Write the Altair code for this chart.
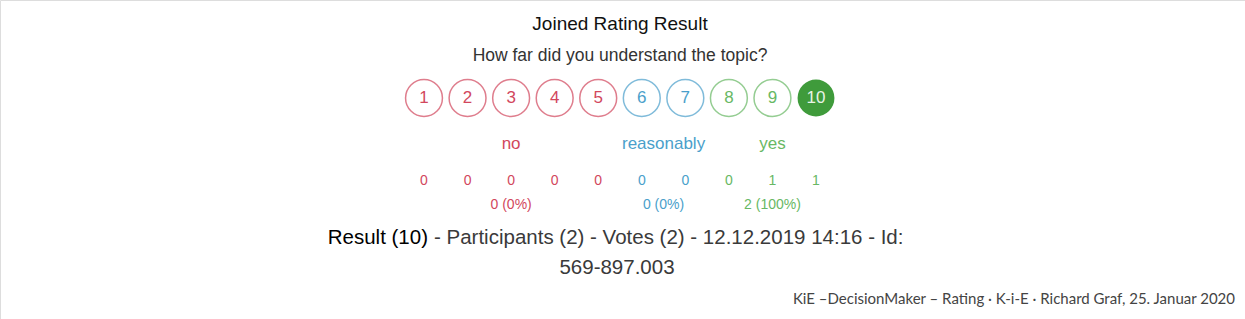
import altair as alt
import pandas as pd

ratings = [1, 2, 3, 4, 5, 6, 7, 8, 9, 10]
votes = [0, 0, 0, 0, 0, 0, 0, 0, 1, 1]
rating_group = ["no"] * 5 + ["reasonably"] * 2 + ["yes"] * 3
selected = 10

group_names = ["no", "reasonably", "yes"]
group_center = [3, 6.5, 9]
group_totals = ["0 (0%)", "0 (0%)", "2 (100%)"]

title_text = "Joined Rating Result"
question = "How far did you understand the topic?"
result_bold = "Result (10)"
result_rest = "- Participants (2) - Votes (2) - 12.12.2019 14:16 - Id:"
result_id = "569-897.003"
footer = "KiE \u2013DecisionMaker \u2013 Rating \u00b7 K-i-E \u00b7 Richard Graf, 25. Januar 2020"

colors = {"no": "#d2475d", "reasonably": "#4a9fcb", "yes": "#68b864"}
fill_sel = "#3f9b3b"

df = pd.DataFrame({
    "rating": ratings,
    "votes": votes,
    "group": rating_group,
})
df["sel"] = df["rating"] == selected
gdf = pd.DataFrame({"group": group_names, "center": group_center, "total": group_totals})

xs = alt.Scale(domain=[1, 10], range=[424, 816])
cscale = alt.Scale(domain=group_names, range=[colors[g] for g in group_names])
FONT = "Liberation Sans"

base = alt.Chart(df)
gbase = alt.Chart(gdf)

circles_open = base.transform_filter("!datum.sel").mark_point(
    shape="circle", size=1360, strokeWidth=1.5, filled=False
).encode(
    x=alt.X("rating:Q", scale=xs, axis=None),
    y=alt.value(98),
    color=alt.Color("group:N", scale=cscale, legend=None),
)
circles_sel = base.transform_filter("datum.sel").mark_point(
    shape="circle", size=1360, strokeWidth=1.5, filled=True, opacity=1, color=fill_sel
).encode(
    x=alt.X("rating:Q", scale=xs, axis=None),
    y=alt.value(98),
)
nums = base.mark_text(font=FONT, fontSize=17, baseline="middle").encode(
    x=alt.X("rating:Q", scale=xs, axis=None),
    y=alt.value(98),
    text="rating:N",
    color=alt.condition("datum.sel", alt.value("#e8f3e6"), alt.Color("group:N", scale=cscale, legend=None)),
)
counts = base.mark_text(font=FONT, fontSize=14, baseline="middle").encode(
    x=alt.X("rating:Q", scale=xs, axis=None),
    y=alt.value(181),
    text="votes:N",
    color=alt.Color("group:N", scale=cscale, legend=None),
)
glabels = gbase.mark_text(font=FONT, fontSize=17, baseline="middle").encode(
    x=alt.X("center:Q", scale=xs, axis=None),
    y=alt.value(144),
    text="group:N",
    color=alt.Color("group:N", scale=cscale, legend=None),
)
gtotals = gbase.mark_text(font=FONT, fontSize=14, baseline="middle").encode(
    x=alt.X("center:Q", scale=xs, axis=None),
    y=alt.value(205),
    text="total:N",
    color=alt.Color("group:N", scale=cscale, legend=None),
)

def label(txt, y, size, color, weight="normal", align="center", x=None, font=FONT):
    enc = dict(y=alt.value(y), text=alt.value(txt))
    if x is None:
        enc["x"] = alt.X("xx:Q", scale=xs, axis=None)
        ch = alt.Chart(pd.DataFrame({"xx": [5.5]}))
    else:
        enc["x"] = alt.value(x)
        ch = alt.Chart(pd.DataFrame({"xx": [0]}))
    return ch.mark_text(font=font, fontSize=size, baseline="middle", align=align,
                        color=color, fontWeight=weight).encode(**enc)

t1 = label(title_text, 24, 19, "#111111")
t2 = label(question, 56, 17.5, "#333333")
r1 = label(result_bold, 238, 20.5, "#000000", align="right", x=428)
r2 = label(result_rest, 238, 20.5, "#3a3a3a", align="left", x=434)
r3 = label(result_id, 268, 20.5, "#3a3a3a", align="center", x=617)
ft = label(footer, 299, 15, "#444444", align="right", x=1235, font="Lato")

chart = alt.layer(
    circles_open, circles_sel, nums, counts, glabels, gtotals, t1, t2, r1, r2, r3, ft
).properties(
    width=1245, height=319, padding=0,
    autosize=alt.AutoSizeParams(type="none"),
).configure_view(strokeWidth=0).configure(background="white")

chart.save("out.html", embed_options={"renderer": "svg", "actions": False})
